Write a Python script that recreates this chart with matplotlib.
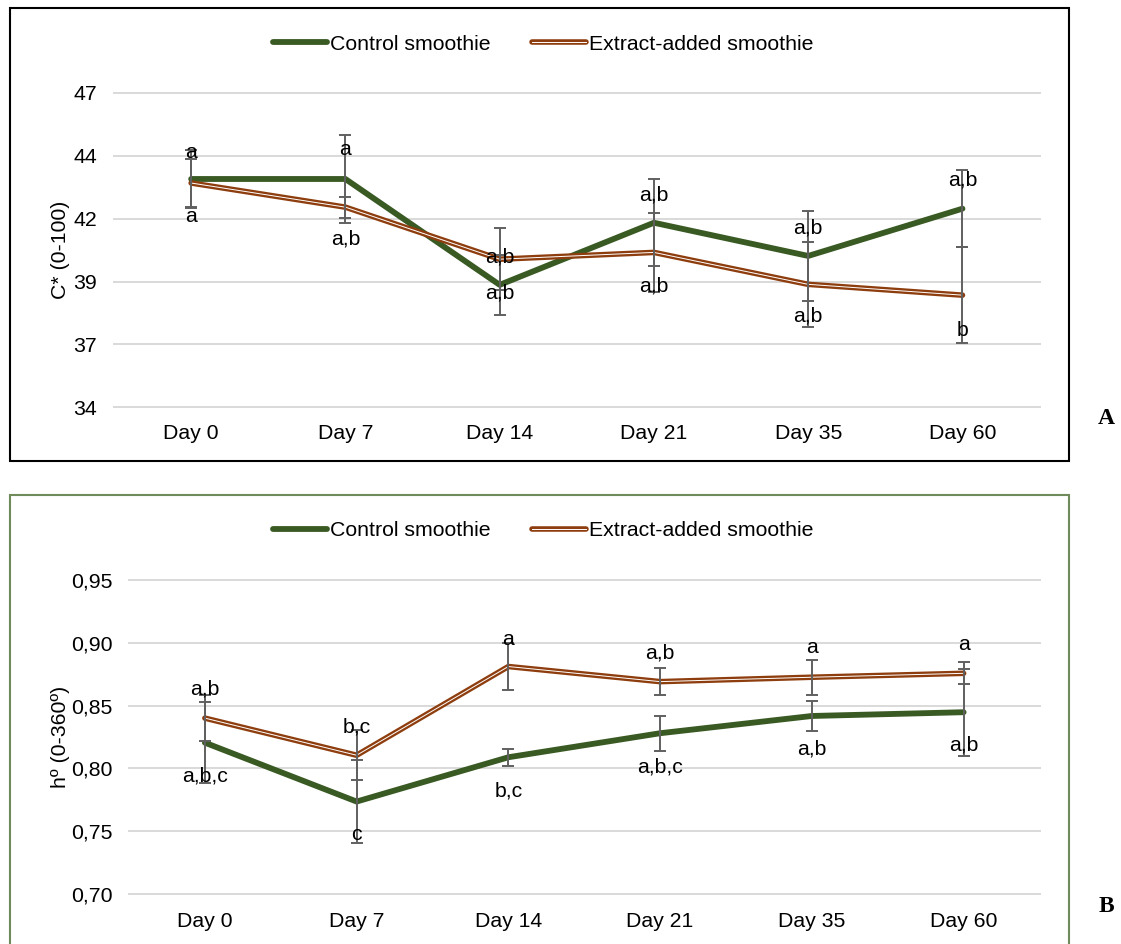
import math
import matplotlib
matplotlib.use("Agg")
import matplotlib.pyplot as plt
from matplotlib.lines import Line2D
from matplotlib.patches import Rectangle
from matplotlib.ticker import FixedLocator, FuncFormatter

plt.rcParams["font.family"] = ["Liberation Sans", "DejaVu Sans"]

# ---------------- data ----------------
days = ["Day 0", "Day 7", "Day 14", "Day 21", "Day 35", "Day 60"]
series_names = ["Control smoothie", "Extract-added smoothie"]

# Panel A: chroma C*
chroma_control = [43.08, 43.08, 38.87, 41.34, 40.02, 41.90]
chroma_control_sd = [1.15, 1.74, 1.19, 1.72, 1.80, 1.54]
chroma_extract = [42.92, 41.96, 39.89, 40.16, 38.89, 38.46]
chroma_extract_sd = [0.95, 0.42, 1.23, 1.58, 1.68, 1.90]
chroma_ticks = [34, 36.5, 39, 41.5, 44, 46.5]
chroma_letters_upper = ["a", "a", "a,b", "a,b", "a,b", "a,b"]
chroma_letters_upper_y = [44.12, 44.25, 39.98, 42.46, 41.14, 43.03]
chroma_letters_lower = ["a", "a,b", "a,b", "a,b", "a,b", "b"]
chroma_letters_lower_y = [41.59, 40.70, 38.53, 38.83, 37.62, 37.07]

# Panel B: hue angle h°
hue_control = [0.8205, 0.7737, 0.8089, 0.8280, 0.8417, 0.8447]
hue_control_sd = [0.0323, 0.0331, 0.0066, 0.0139, 0.0122, 0.0347]
hue_extract = [0.8400, 0.8105, 0.8810, 0.8690, 0.8725, 0.8756]
hue_extract_sd = [0.0180, 0.0200, 0.0190, 0.0106, 0.0140, 0.0087]
hue_ticks = [0.70, 0.75, 0.80, 0.85, 0.90, 0.95]
hue_letters_upper = ["a,b", "b,c", "a", "a,b", "a", "a"]
hue_letters_upper_y = [0.8629, 0.8333, 0.9026, 0.8915, 0.8960, 0.8987]
hue_letters_lower = ["a,b,c", "c", "b,c", "a,b,c", "a,b", "a,b"]
hue_letters_lower_y = [0.7941, 0.7472, 0.7824, 0.8010, 0.8153, 0.8187]

# ---------------- style ----------------
W, H = 1121, 944
FS = 15.3
GREEN = "#3A5A24"
BROWN = "#8E3E0E"
ERR = "#606060"
GRID = "#D9D9D9"
LW_CTRL = 4.2
LW_EXT = 4.0
LW_EXT_CORE = 0.7

fig = plt.figure(figsize=(W / 100, H / 100), dpi=100)
fig.patch.set_facecolor("white")


def axes_px(left, top, right, bottom):
    return fig.add_axes([left / W, 1 - bottom / H, (right - left) / W, (bottom - top) / H])


def panel(ax, ctrl, ctrl_sd, ext, ext_sd, ticks, fmt, ylabel, up, up_y, lo, lo_y,
          legend_y, ylabel_x, ytick_pad, xtick_pad):
    x = list(range(len(days)))
    ax.set_xlim(-0.5, len(days) - 0.5)
    ax.set_ylim(ticks[0], ticks[-1])
    ax.yaxis.set_major_locator(FixedLocator(ticks))
    ax.yaxis.set_major_formatter(FuncFormatter(fmt))
    ax.set_xticks(x)
    ax.set_xticklabels(days)
    ax.tick_params(axis="both", length=0, labelsize=FS, colors="black")
    ax.tick_params(axis="y", pad=ytick_pad)
    ax.tick_params(axis="x", pad=xtick_pad)
    for s in ax.spines.values():
        s.set_visible(False)
    ax.grid(axis="y", color=GRID, lw=1.4, zorder=0)
    for gl in ax.get_ygridlines():
        gl.set_clip_on(False)
    ax.set_axisbelow(True)

    ax.plot(x, ctrl, color=GREEN, lw=LW_CTRL, solid_joinstyle="round",
            solid_capstyle="round", zorder=3)
    ax.plot(x, ext, color=BROWN, lw=LW_EXT, solid_joinstyle="round",
            solid_capstyle="round", zorder=3.1)
    ax.plot(x, ext, color="white", lw=LW_EXT_CORE, solid_joinstyle="round", zorder=3.2)

    for vals, sd in ((ctrl, ctrl_sd), (ext, ext_sd)):
        ax.errorbar(x, vals, yerr=sd, fmt="none", ecolor=ERR, elinewidth=1.4,
                    capsize=4.2, capthick=1.4, zorder=4)

    for xi, s, yv in zip(x, up, up_y):
        ax.text(xi, yv, s, ha="center", va="center", fontsize=FS, zorder=5)
    for xi, s, yv in zip(x, lo, lo_y):
        ax.text(xi, yv, s, ha="center", va="center", fontsize=FS, zorder=5)

    ax.set_ylabel(ylabel, fontsize=FS)
    ax.yaxis.label.set(ha="center", va="center")
    ax.yaxis.set_label_coords(ylabel_x, 0.5)

    h_ctrl = Line2D([], [], color=GREEN, lw=LW_CTRL, solid_capstyle="round")
    h_ext = (Line2D([], [], color=BROWN, lw=LW_EXT, solid_capstyle="round"),
             Line2D([], [], color="white", lw=LW_EXT_CORE))
    ax.legend([h_ctrl, h_ext], series_names, ncol=2, frameon=False, loc="center",
              bbox_to_anchor=(543.5 / W, 1 - legend_y / H),
              bbox_transform=fig.transFigure, fontsize=FS, handlelength=2.54,
              handletextpad=0.14, columnspacing=1.94, borderpad=0)


def fmt_int(v, pos):
    return str(int(math.floor(v + 0.5)))


def fmt_comma(v, pos):
    return f"{v:.2f}".replace(".", ",")


# panel frames
fig.add_artist(Rectangle((10 / W, 1 - 461 / H), 1059 / W, 453 / H,
                         transform=fig.transFigure, fill=False, ec="black", lw=1.5))
fig.add_artist(Rectangle((10 / W, -0.02), 1059 / W, (1 - 495 / H) + 0.02,
                         transform=fig.transFigure, fill=False, ec="#6F8A5B", lw=1.5))

axA = axes_px(114, 93, 1039.6, 407.3)
panel(axA, chroma_control, chroma_control_sd, chroma_extract, chroma_extract_sd,
      chroma_ticks, fmt_int, "C* (0-100)", chroma_letters_upper, chroma_letters_upper_y,
      chroma_letters_lower, chroma_letters_lower_y, legend_y=44,
      ylabel_x=(60 - 114) / 925.6, ytick_pad=12.2, xtick_pad=11.8)

axB = axes_px(129, 579.7, 1039.5, 894.3)
panel(axB, hue_control, hue_control_sd, hue_extract, hue_extract_sd,
      hue_ticks, fmt_comma, "hº (0-360º)", hue_letters_upper, hue_letters_upper_y,
      hue_letters_lower, hue_letters_lower_y, legend_y=530.7,
      ylabel_x=(60 - 129) / 910.5, ytick_pad=11.9, xtick_pad=12.5)

fig.text(1106 / W, 1 - 418 / H, "A", family="Liberation Serif", weight="bold",
         fontsize=17, ha="center", va="center")
fig.text(1106 / W, 1 - 907 / H, "B", family="Liberation Serif", weight="bold",
         fontsize=17, ha="center", va="center")

fig.savefig("out.png", dpi=100, facecolor="white")
